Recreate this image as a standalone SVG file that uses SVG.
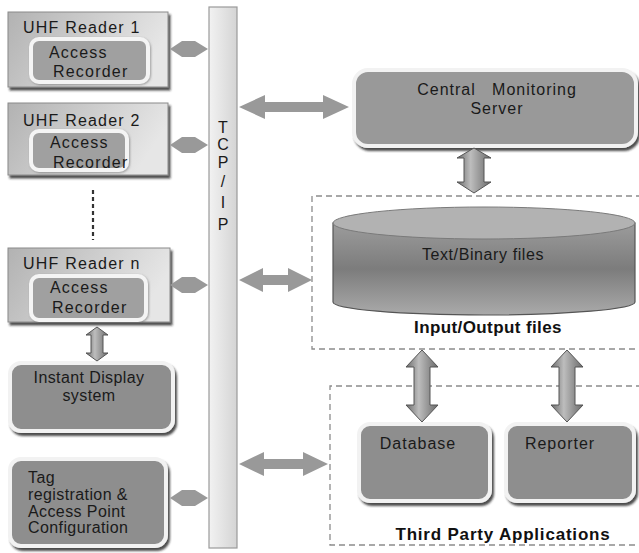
<svg xmlns="http://www.w3.org/2000/svg" width="639" height="553" viewBox="0 0 639 553">
<defs>
  <style>
    .t { font-family: "Liberation Sans", Arial, sans-serif; font-size: 16px; fill: #1a1a1a; }
    .ts { letter-spacing: 1.2px; }
    .tb { font-family: "Liberation Sans", Arial, sans-serif; font-size: 17px; font-weight: bold; fill: #111; }
    .reader { fill: url(#gReader); stroke: #8a8a8a; stroke-width: 1; filter: url(#shadow); }
    .inner { fill: #a0a0a0; stroke: #f4f4f4; stroke-width: 4; filter: url(#soft); }
    .box { fill: #8e8e8e; stroke: #f2f2f2; stroke-width: 4; filter: url(#shadow); }
    .dash { fill: none; stroke: #8c8c8c; stroke-width: 1.3; stroke-dasharray: 6 4; }
    .harrow { fill: #999999; }
    .varrow { fill: url(#gArrow); stroke: #555; stroke-width: 1; }
  </style>
  <filter id="shadow" x="-10%" y="-10%" width="125%" height="130%">
    <feDropShadow dx="2" dy="3" stdDeviation="1.2" flood-color="#222" flood-opacity="0.8"/>
  </filter>
  <filter id="soft" x="-10%" y="-10%" width="125%" height="130%">
    <feDropShadow dx="1" dy="1" stdDeviation="1" flood-color="#555" flood-opacity="0.5"/>
  </filter>
  <linearGradient id="gReader" x1="0" y1="0" x2="1" y2="0.3">
    <stop offset="0" stop-color="#b2b2b2"/>
    <stop offset="1" stop-color="#e6e6e6"/>
  </linearGradient>
  <linearGradient id="gBus" x1="0" y1="0" x2="1" y2="0">
    <stop offset="0" stop-color="#f2f2f2"/>
    <stop offset="1" stop-color="#d4d4d4"/>
  </linearGradient>
  <linearGradient id="gArrow" x1="0" y1="0" x2="1" y2="0">
    <stop offset="0" stop-color="#6a6a6a"/>
    <stop offset="0.4" stop-color="#bdbdbd"/>
    <stop offset="1" stop-color="#6a6a6a"/>
  </linearGradient>
  <linearGradient id="gCyl" x1="0" y1="0" x2="0" y2="1">
    <stop offset="0" stop-color="#9c9c9c"/>
    <stop offset="0.5" stop-color="#7c7c7c"/>
    <stop offset="1" stop-color="#aaaaaa"/>
  </linearGradient>
</defs>
<rect width="639" height="553" fill="#ffffff"/>

<!-- dashed containers -->
<g id="io-files">
  <path class="dash" d="M 642 196 H 312 V 349 H 642"/>
  <text class="tb" x="488" y="333" text-anchor="middle" style="letter-spacing:0.4px">Input/Output files</text>
</g>
<g id="third-party">
  <path class="dash" d="M 642 386 H 330 V 545 H 642"/>
  <text class="tb" x="503" y="540" text-anchor="middle" style="letter-spacing:0.8px">Third Party Applications</text>
</g>

<!-- TCP/IP bus -->
<g id="tcpip">
  <rect x="209" y="7" width="28" height="541" fill="url(#gBus)" stroke="#9a9a9a" stroke-width="1.2"/>
  <g class="t" text-anchor="middle">
    <text x="223" y="133">T</text>
    <text x="223" y="150">C</text>
    <text x="223" y="168">P</text>
    <text x="223" y="187">/</text>
    <text x="223" y="208">I</text>
    <text x="223" y="230">P</text>
  </g>
</g>

<!-- readers -->
<g id="reader1">
  <rect class="reader" x="8" y="12" width="160" height="75"/>
  <text class="t ts" x="23" y="33">UHF Reader 1</text>
  <rect class="inner" x="31" y="39" width="117" height="43" rx="8"/>
  <text class="t ts" x="49" y="58">Access</text>
  <text class="t ts" x="53" y="77">Recorder</text>
</g>
<g id="reader2">
  <rect class="reader" x="8" y="103" width="160" height="72"/>
  <text class="t ts" x="23" y="126">UHF Reader 2</text>
  <rect class="inner" x="31" y="131" width="96" height="39" rx="8"/>
  <text class="t ts" x="50" y="148">Access</text>
  <text class="t ts" x="53" y="168">Recorder</text>
</g>
<g id="dots">
  <line x1="93" y1="190" x2="93" y2="240" stroke="#333" stroke-width="2.2" stroke-dasharray="4 3"/>
</g>
<g id="readern">
  <rect class="reader" x="8" y="248" width="162" height="74"/>
  <text class="t ts" x="23" y="269">UHF Reader n</text>
  <rect class="inner" x="31" y="276" width="115" height="44" rx="8"/>
  <text class="t ts" x="50" y="293">Access</text>
  <text class="t ts" x="52" y="313">Recorder</text>
</g>

<g id="instant-display">
  <rect class="box" x="10" y="363" width="163" height="68" rx="11"/>
  <text class="t" x="89" y="383" text-anchor="middle" style="letter-spacing:0.4px">Instant Display</text>
  <text class="t" x="89" y="401" text-anchor="middle" style="letter-spacing:0.4px">system</text>
</g>

<g id="tag-registration">
  <rect class="box" x="10" y="459" width="156" height="87" rx="11"/>
  <g class="t" style="letter-spacing:0.4px">
    <text x="28" y="483">Tag</text>
    <text x="28" y="500">registration &amp;</text>
    <text x="28" y="517">Access Point</text>
    <text x="28" y="533">Configuration</text>
  </g>
</g>

<g id="cms">
  <rect class="box" x="354" y="70" width="282" height="76" rx="14" style="fill:#999999"/>
  <text class="t" x="497" y="95" text-anchor="middle" xml:space="preserve" style="letter-spacing:1px">Central   Monitoring</text>
  <text class="t" x="497" y="114" text-anchor="middle" style="letter-spacing:1px">Server</text>
</g>

<g id="text-binary-files">
  <path d="M 333 223 V 302 A 151 13 0 0 0 635 302 V 223 Z" fill="url(#gCyl)" stroke="#555" stroke-width="1.2"/>
  <ellipse cx="484" cy="223" rx="151" ry="16" fill="#b2b2b2" stroke="#7a7a7a" stroke-width="1"/>
  <text class="t" x="483" y="260" text-anchor="middle" style="letter-spacing:0.6px">Text/Binary files</text>
</g>

<g id="database">
  <rect class="box" x="359" y="424" width="131" height="77" rx="11"/>
  <text class="t" x="418" y="449" text-anchor="middle" style="letter-spacing:1px">Database</text>
</g>
<g id="reporter">
  <rect class="box" x="506" y="424" width="128" height="77" rx="11"/>
  <text class="t" x="560" y="449" text-anchor="middle" style="letter-spacing:1px">Reporter</text>
</g>

<!-- connectors -->
<g id="connectors">
  <polygon class="harrow" points="170,49 182,41 195,41 208,49 195,57 182,57"/>
  <polygon class="harrow" points="170,145 182,137 195,137 208,145 195,153 182,153"/>
  <polygon class="harrow" points="170,285 182,277 195,277 208,285 195,293 182,293"/>
  <polygon class="harrow" points="170,498 182,490 195,490 208,498 195,506 182,506"/>
  <polygon class="harrow" points="239,107 265,95 265,102 323,102 323,95 349,107 323,119 323,112 265,112 265,119"/>
  <polygon class="harrow" points="239,280 263,268 263,275 288,275 288,268 312,280 288,292 288,285 263,285 263,292"/>
  <polygon class="harrow" points="239,464 264,452 264,459 303,459 303,452 328,464 303,476 303,469 264,469 264,476"/>
  <polygon class="varrow" points="474,148 491,158 484,158 484,182 491,182 474,193 457,182 464,182 464,158 457,158"/>
  <polygon class="varrow" points="422,350 438,367 430,367 430,405 438,405 422,422 406,405 414,405 414,367 406,367"/>
  <polygon class="varrow" points="567,350 583,367 575,367 575,405 583,405 567,422 551,405 559,405 559,367 551,367"/>
  <polygon class="varrow" points="97,327 108,335 103,335 103,353 108,353 97,361 86,353 91,353 91,335 86,335"/>
</g>
</svg>
